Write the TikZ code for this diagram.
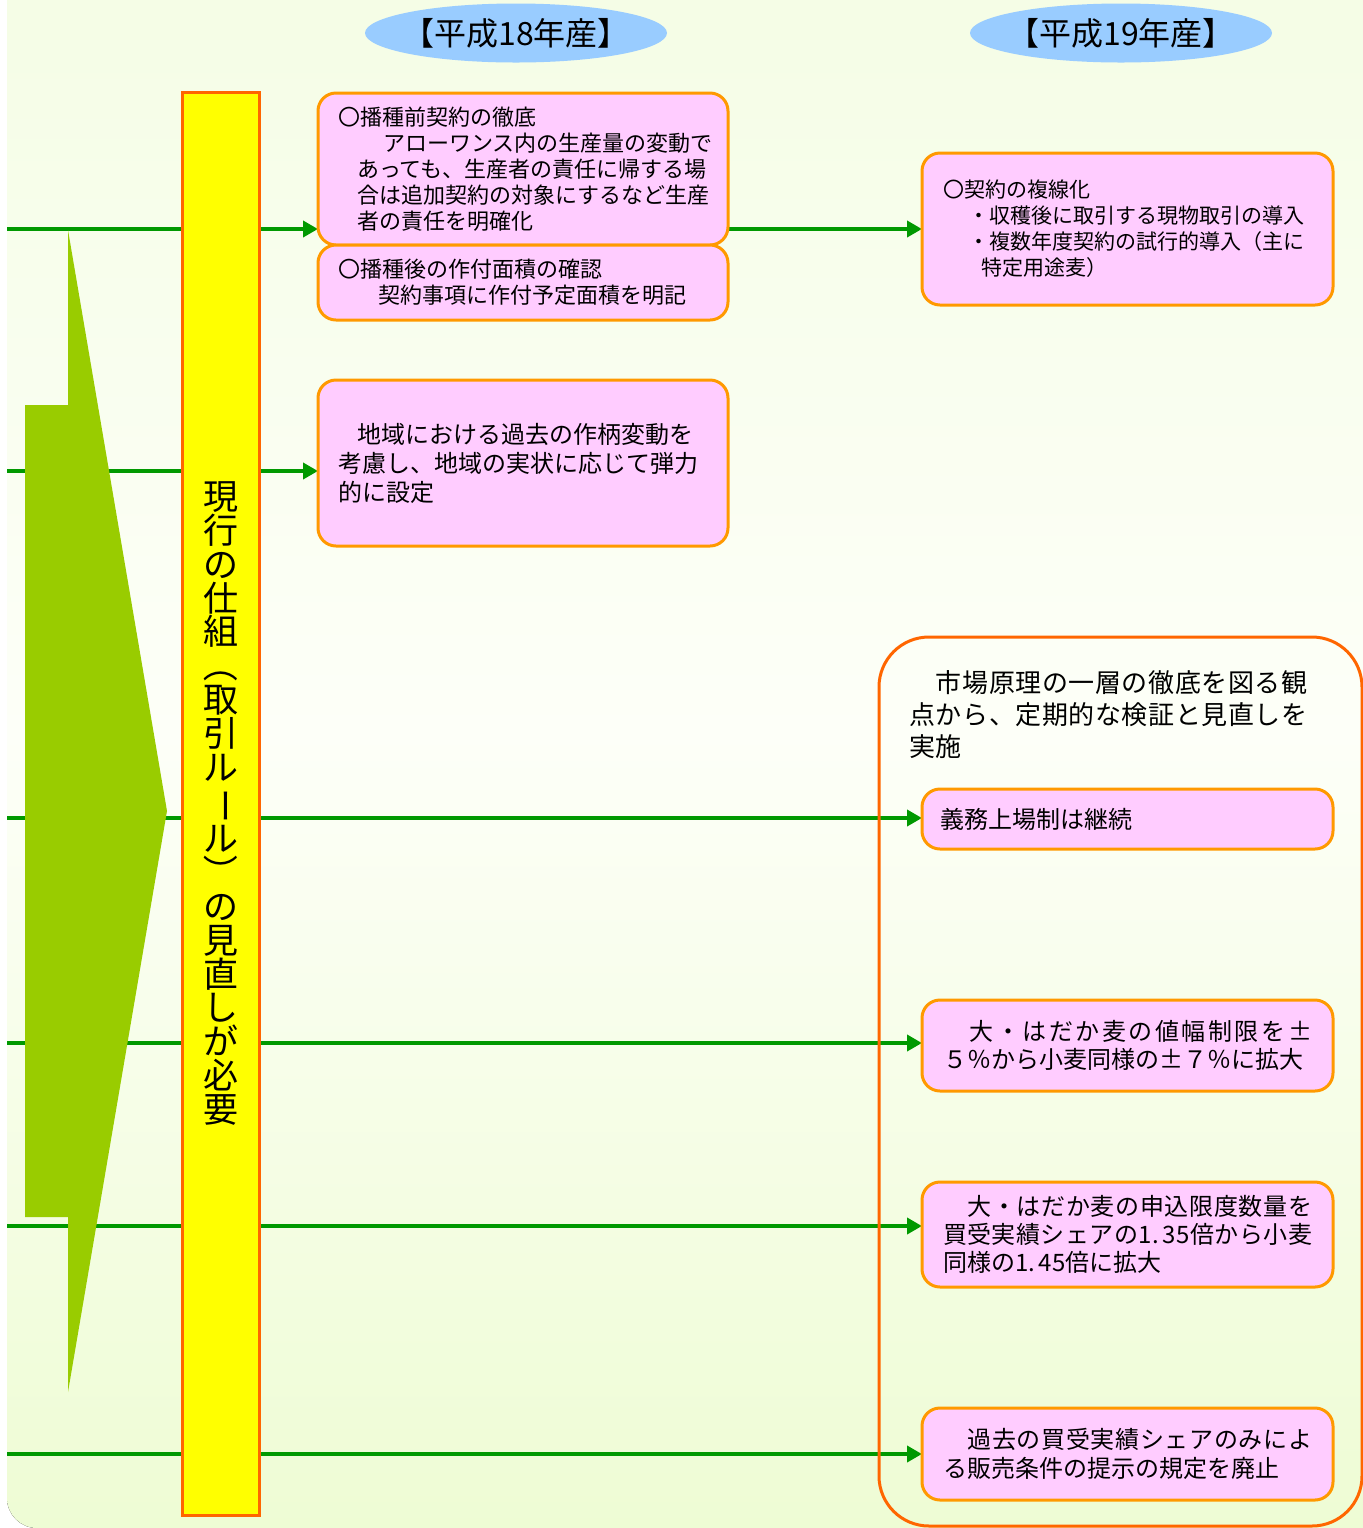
\documentclass[tikz,border=0pt]{standalone}
\usepackage{fontspec}
\setmainfont{Noto Sans CJK JP}
\usepackage{graphicx}
\usetikzlibrary{arrows.meta,shapes.geometric}
\definecolor{pinkf}{HTML}{FFCCFF}
\definecolor{boxor}{HTML}{FF9900}
\definecolor{baror}{HTML}{FF6600}
\definecolor{lgreen}{HTML}{009900}
\definecolor{agreen}{HTML}{99CC00}
\definecolor{ellblue}{HTML}{99CCFF}
\definecolor{barfill}{HTML}{FFFF00}
\definecolor{bgtop}{HTML}{F4FDE4}
\definecolor{bgmid}{HTML}{FDFFF8}
\definecolor{bgbot}{HTML}{EEFCD4}
\newcommand\fsz[2]{\fontsize{#1}{#2}\selectfont}
\def\spreadchars#1{\ifx\relax#1\else#1\hfil\expandafter\spreadchars\fi}
\newcommand\spreadline[2]{\makebox[#1][s]{\spreadchars#2\relax\unskip}}
\newcommand\vrot[1]{\rotatebox[origin=c]{-90}{#1}}
\pgfdeclarelayer{back}
\pgfdeclarelayer{lines}
\pgfsetlayers{back,lines,main}
\tikzset{
  pbox/.style={draw=boxor, line width=1.5pt, fill=pinkf, rounded corners=9pt,
    anchor=north west, align=left, inner ysep=0pt, outer sep=0pt},
  lbox/.style={pbox, inner xsep=10pt, text width=185pt},
  rbox/.style={pbox, inner xsep=10.5pt, text width=184.5pt},
  ell/.style={ellipse, fill=ellblue, minimum width=151pt, minimum height=29.5pt,
    inner sep=0pt, font=\fsz{16}{17}},
  vbar/.style={draw=baror, line width=1.5pt, fill=barfill, minimum width=38.5pt,
    minimum height=711.5pt, inner sep=0pt, align=center, font=\fsz{17.5}{16.9}},
  contbox/.style={draw=baror, line width=1.5pt, rounded corners=25pt,
    minimum width=241.5pt, minimum height=444.5pt, inner sep=0pt},
  gline/.style={draw=lgreen, line width=2pt, -{Triangle[length=7.5pt,width=8pt]}}
}
\begin{document}
\begin{tikzpicture}[x=0.5pt,y=-0.5pt]
\useasboundingbox (0,0) rectangle (1363,1528);
\clip (0,0) rectangle (1363,1528);
\begin{pgfonlayer}{back}
  \fill[white] (0,0) rectangle (1363,1528);
  \fill[top color=bgtop, bottom color=bgbot, middle color=bgmid, rounded corners=15pt]
    (7,-60) rectangle (1440,1528);
\end{pgfonlayer}

% titles
\node[ell] (y18) at (516,33) {\makebox[0pt]{【平成18年産】}};
\node[ell] (y19) at (1121,33) {\makebox[0pt]{【平成19年産】}};

% big green arrow
\fill[agreen] (25,405) -- (68,405) -- (68,230) -- (167,811) -- (68,1392)
  -- (68,1217) -- (25,1217) -- cycle;

% yellow bar
\node[vbar] (bar) at (220.5,803.5) {現\\行\\の\\仕\\組\\\vrot{（}\\取\\引\\ル\\\vrot{ー}\\ル\\\vrot{）}\\の\\見\\直\\し\\が\\必\\要};

% left column boxes
\node[lbox, minimum height=76pt, font=\fsz{11}{13}] (a) at (318,93)
  {〇播種前契約の徹底\\
   \hspace*{22.5pt}アローワンス内の生産量の変動で\\
   \hspace*{9.5pt}あっても、生産者の責任に帰する場\\
   \hspace*{9.5pt}合は追加契約の対象にするなど生産\\
   \hspace*{9.5pt}者の責任を明確化};
\node[lbox, minimum height=37.5pt, font=\fsz{11}{13}] (b) at (318,245)
  {〇播種後の作付面積の確認\\
   \hspace*{20pt}契約事項に作付予定面積を明記};
\node[lbox, minimum height=83pt, font=\fsz{12}{14.5}] (c) at (318,380)
  {\hspace*{9.5pt}地域における過去の作柄変動を\\
   考慮し、地域の実状に応じて弾力\\
   的に設定};

% right column
\node[rbox, minimum height=76pt, font=\fsz{10.5}{13}] (d) at (922,153)
  {〇契約の複線化\\
   \hspace*{12.5pt}・収穫後に取引する現物取引の導入\\
   \hspace*{12.5pt}・複数年度契約の試行的導入（主に\\
   \hspace*{19pt}特定用途麦）};

\node[contbox] (e) at (1120.5,1081.5) {};
\node[anchor=north west, align=left, inner sep=0pt, font=\fsz{13}{16}] (et) at (909,670)
  {\spreadline{199pt}{　市場原理の一層の徹底を図る観}\\
   \spreadline{199pt}{点から、定期的な検証と見直しを}\\
   実施};

\node[rbox, minimum height=30pt, font=\fsz{12}{14}, inner xsep=9pt, text width=187.5pt] (f) at (922,789)
  {義務上場制は継続};
\node[rbox, minimum height=45.5pt, font=\fsz{12}{14}] (g) at (922,1000)
  {\spreadline{184.5pt}{　大・はだか麦の値幅制限を±}\\
   ５％から小麦同様の±７％に拡大};
\node[rbox, minimum height=52.5pt, font=\fsz{12}{14}] (h) at (922,1182)
  {\spreadline{184.5pt}{　大・はだか麦の申込限度数量を}\\
   \spreadline{184.5pt}{買受実績シェアの{1.\kern2pt 35}倍から小麦}\\
   同様の1.\kern2pt 45倍に拡大};
\node[rbox, minimum height=46pt, font=\fsz{12}{14.5}] (i) at (922,1408)
  {\spreadline{184.5pt}{　過去の買受実績シェアのみによ}\\
   る販売条件の提示の規定を廃止};

% connectors
\coordinate (L1) at (7,229);
\coordinate (L2) at (7,471);
\coordinate (L3) at (7,818);
\coordinate (L4) at (7,1043);
\coordinate (L5) at (7,1226);
\coordinate (L6) at (7,1454);
\begin{pgfonlayer}{lines}
  \draw[gline] (L1) -- (L1 -| a.west);
  \draw[gline] (a.east |- L1) -- (L1 -| d.west);
  \draw[gline] (L2) -- (L2 -| c.west);
  \draw[gline] (L3) -- (L3 -| f.west);
  \draw[gline] (L4) -- (L4 -| g.west);
  \draw[gline] (L5) -- (L5 -| h.west);
  \draw[gline] (L6) -- (L6 -| i.west);
\end{pgfonlayer}
\end{tikzpicture}
\end{document}
